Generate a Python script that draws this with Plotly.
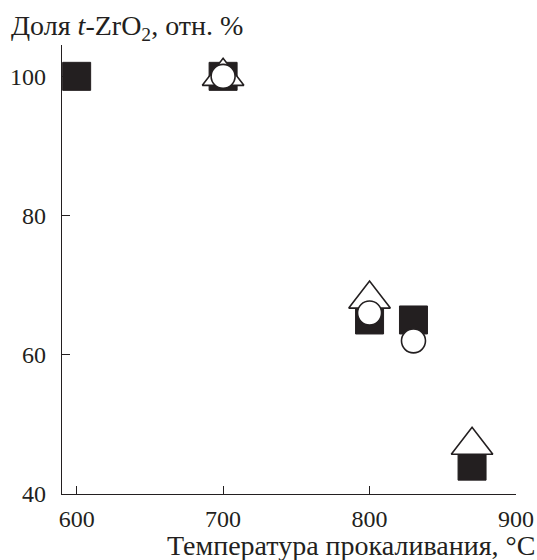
import plotly.graph_objects as go

# Data
sq_x = [600, 700, 800, 830, 870]
sq_y = [100, 100, 65, 65, 44]
tri_x = [700, 800, 870]
tri_y = [100, 68, 47]
circ_x = [700, 800, 830]
circ_y = [100, 66, 62]

x_ticks = [600, 700, 800, 900]
y_ticks = [40, 60, 80, 100]

FONT = "Liberation Serif"
INK = "#231f20"

fig = go.Figure()
fig.add_trace(go.Scatter(x=sq_x, y=sq_y, mode="markers",
                         marker=dict(symbol="square", size=28, color=INK,
                                     line=dict(color=INK, width=1)),
                         showlegend=False, cliponaxis=False))
fig.add_trace(go.Scatter(x=tri_x, y=tri_y, mode="markers",
                         marker=dict(symbol="triangle-up", size=36, color="white",
                                     line=dict(color=INK, width=1.6)),
                         showlegend=False, cliponaxis=False))
fig.add_trace(go.Scatter(x=circ_x, y=circ_y, mode="markers",
                         marker=dict(symbol="circle", size=24, color="white",
                                     line=dict(color=INK, width=1.6)),
                         showlegend=False, cliponaxis=False))

fig.update_layout(
    width=537, height=560,
    margin=dict(l=62, r=21, t=45, b=66, autoexpand=False),
    paper_bgcolor="white", plot_bgcolor="white",
    font=dict(family=FONT, size=24, color=INK),
    xaxis=dict(range=[590, 900], tickvals=x_ticks, ticks="inside", ticklen=8,
               tickwidth=1.3, tickcolor=INK, showline=True, linecolor=INK,
               linewidth=1.3, showgrid=False, zeroline=False, automargin=False,
               ticklabelstandoff=3,
               tickfont=dict(family=FONT, size=24, color=INK)),
    yaxis=dict(range=[40, 104.5], tickvals=y_ticks, ticks="inside", ticklen=8,
               tickwidth=1.3, tickcolor=INK, showline=True, linecolor=INK,
               linewidth=1.3, showgrid=False, zeroline=False, automargin=False,
               ticklabelstandoff=10,
               tickfont=dict(family=FONT, size=24, color=INK)),
    annotations=[
        dict(text="Доля <i>t</i>-ZrO<sub>2</sub>, отн. %", xref="paper", yref="paper",
             x=-0.117, y=1.040, xanchor="left", yanchor="middle", showarrow=False,
             font=dict(family=FONT, size=28, color=INK)),
        dict(text="Температура прокаливания, °C", xref="paper", yref="paper",
             x=1.046, y=-0.1136, xanchor="right", yanchor="middle", showarrow=False,
             font=dict(family=FONT, size=28, color=INK)),
    ],
)

# remove the browser's default 8px body margin so the figure fills the window
fig.write_html("out.html",
               config={"displayModeBar": False},
               post_script="document.body.style.margin='0';document.body.style.overflow='hidden';")
